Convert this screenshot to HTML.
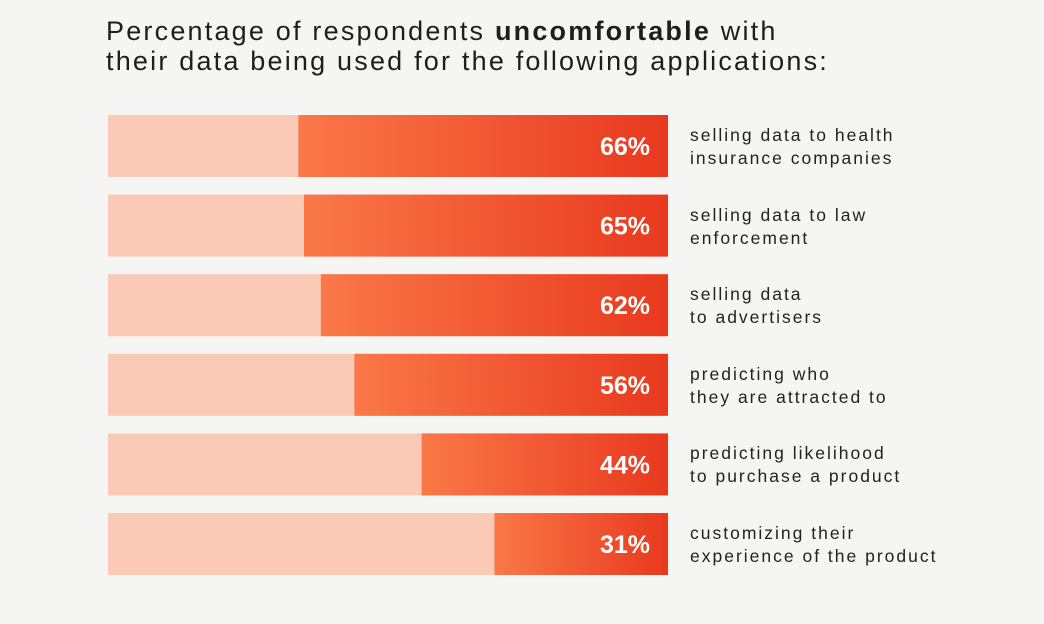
<!DOCTYPE html>
<html><head><meta charset="utf-8"><style>
body{margin:0;width:1044px;height:624px;background:#f5f5f4;font-family:"Liberation Sans",sans-serif;overflow:hidden;position:relative}
#title{position:absolute;left:106px;top:16px;font-size:27px;line-height:30px;color:#1e1e1e;letter-spacing:2.2px;white-space:nowrap}
.lbl{position:absolute;left:690px;font-size:17.5px;line-height:23px;color:#222;letter-spacing:2px;white-space:nowrap}
</style></head><body>
<div id="title">Percentage of respondents <b>uncomfortable</b> with<br>their data being used for the following applications:</div>
<svg id="chart" width="1044" height="624" style="position:absolute;left:0;top:0">
<defs><linearGradient id="g" x1="0" x2="1" y1="0" y2="0"><stop offset="0" stop-color="#fa7848"/><stop offset="1" stop-color="#e8391e"/></linearGradient></defs>
</svg>
<script>
const categories=["selling data to health<br>insurance companies","selling data to law<br>enforcement","selling data<br>to advertisers","predicting who<br>they are attracted to","predicting likelihood<br>to purchase a product","customizing their<br>experience of the product"];
const values=[66,65,62,56,44,31];
const x0=108,x1=668,y0=115,step=79.6,bh=62;
const xs=v=>x1-(v/100)*(x1-x0);
const ys=i=>y0+i*step;
const svg=document.getElementById('chart');
const ns='http://www.w3.org/2000/svg';
values.forEach((v,i)=>{
 const bg=document.createElementNS(ns,'rect');
 bg.setAttribute('x',x0);bg.setAttribute('y',ys(i));bg.setAttribute('width',x1-x0);bg.setAttribute('height',bh);bg.setAttribute('fill','#fbcab7');
 
 
 svg.appendChild(bg);
 const r=document.createElementNS(ns,'rect');
 r.setAttribute('x',xs(v));r.setAttribute('y',ys(i));r.setAttribute('width',x1-xs(v));r.setAttribute('height',bh);r.setAttribute('fill','url(#g)');
 
 
 svg.appendChild(r);
 const t=document.createElementNS(ns,'text');
 t.setAttribute('x',x1-18);t.setAttribute('y',ys(i)+bh/2+9);t.setAttribute('text-anchor','end');
 t.setAttribute('fill','#fff');t.setAttribute('font-size','25');t.setAttribute('font-weight','bold');t.setAttribute('font-family','Liberation Sans, sans-serif');
 t.textContent=v+'%';
 
 
 svg.appendChild(t);
 const d=document.createElement('div');
 d.className='lbl';d.style.top=(ys(i)+9)+'px';d.innerHTML=categories[i];
 
 
 document.body.appendChild(d);
});
</script>
</body></html>
